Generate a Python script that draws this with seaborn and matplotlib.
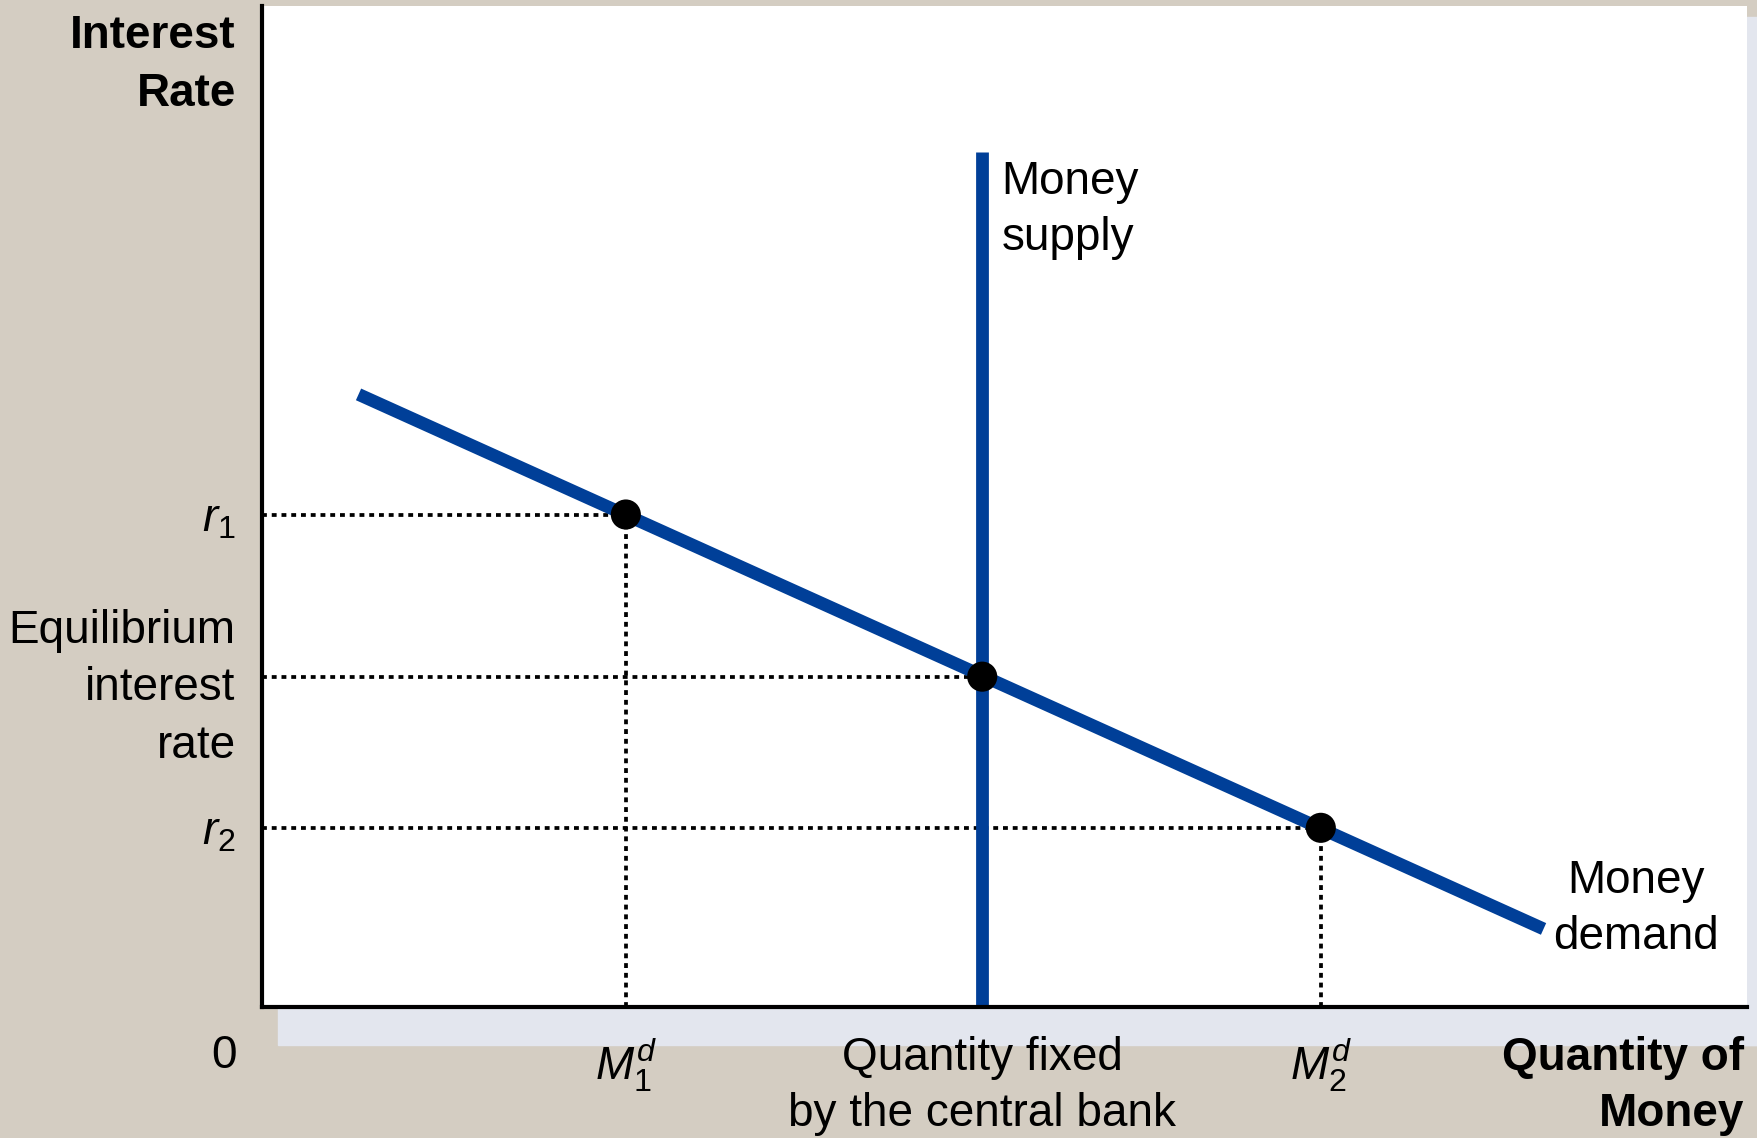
import numpy as np
import pandas as pd
import seaborn as sns
import matplotlib.pyplot as plt
from matplotlib.patches import Rectangle

# dados do grafico (unidades arbitrarias, eixo 0-10)
demand_q = [0.65, 8.63]
demand_r = [6.12, 0.78]
supply_q = [4.85, 4.85]
supply_r = [0.0, 8.54]
point_q = [2.45, 4.85, 7.13]
point_r = [4.92, 3.30, 1.79]
xtick_labels = ['$M_1^d$', 'Quantity fixed\nby the central bank', '$M_2^d$']
ytick_labels = ['$r_1$', 'Equilibrium\ninterest\nrate', '$r_2$']

blue = '#003F98'
bege = '#D4CDC2'

sns.set_theme(style='white')
plt.rcParams['font.family'] = ['Liberation Sans', 'DejaVu Sans']
plt.rcParams['mathtext.fontset'] = 'custom'
plt.rcParams['mathtext.rm'] = 'Liberation Sans'
plt.rcParams['mathtext.it'] = 'Liberation Sans:italic'
plt.rcParams['text.color'] = 'black'
plt.rcParams['xtick.color'] = 'black'
plt.rcParams['ytick.color'] = 'black'
plt.rcParams['lines.solid_capstyle'] = 'butt'

W, H = 1758, 1138
fig = plt.figure(figsize=(W / 100, H / 100), dpi=100, facecolor=bege)

# sombra azulada debaixo e a direita da area branca
fig.patches.append(Rectangle((278 / W, 1 - 1045 / H), (W - 278) / W, 38 / H,
                             transform=fig.transFigure, color='#E3E6EE', zorder=-5))
fig.patches.append(Rectangle((1744 / W, 1 - 1045 / H), 14 / W, (1045 - 17) / H,
                             transform=fig.transFigure, color='#E3E6EE', zorder=-5))

ax = fig.add_axes([262 / W, 1 - 1007 / H, (1747 - 262) / W, (1007 - 6) / H])
ax.set_facecolor('white')
ax.set_xlim(0, 10)
ax.set_ylim(0, 10)

# linhas pontilhadas de referencia
dot = (0, (1.3, 1.3))
for q, r in zip(point_q, point_r):
    ax.plot([0, q], [r, r], color='black', lw=2.7, linestyle=dot, zorder=1)
for q, r in zip([point_q[0], point_q[2]], [point_r[0], point_r[2]]):
    ax.plot([q, q], [0, r], color='black', lw=2.7, linestyle=dot, zorder=1)

# curvas de oferta e demanda
df_d = pd.DataFrame({'q': demand_q, 'r': demand_r})
df_s = pd.DataFrame({'q': supply_q, 'r': supply_r})
sns.lineplot(data=df_d, x='q', y='r', color=blue, lw=9.2, ax=ax, zorder=2,
             sort=False, estimator=None)
sns.lineplot(data=df_s, x='q', y='r', color=blue, lw=9.2, ax=ax, zorder=2,
             sort=False, estimator=None)

df_p = pd.DataFrame({'q': point_q, 'r': point_r})
sns.scatterplot(data=df_p, x='q', y='r', color='black', s=470, ax=ax, zorder=3,
                edgecolor='none')

ax.set_xlabel('')
ax.set_ylabel('')

for s in ['top', 'right']:
    ax.spines[s].set_visible(False)
for s in ['left', 'bottom']:
    ax.spines[s].set_color('black')
    ax.spines[s].set_linewidth(3)

ax.set_xticks(point_q)
ax.set_xticklabels(xtick_labels, fontsize=33, linespacing=1.35)
ax.set_yticks(point_r)
ax.set_yticklabels(ytick_labels, fontsize=33, linespacing=1.4)
ax.tick_params(axis='x', length=0, pad=21)
ax.tick_params(axis='y', length=0, pad=19)
for lab in ax.get_yticklabels():
    lab.set_multialignment('right')

# textos das curvas
ax.text(supply_q[0] + 0.13, supply_r[1] - 0.08, 'Money\nsupply', fontsize=33,
        ha='left', va='top', linespacing=1.35)
ax.text(9.25, 0.98, 'Money\ndemand', fontsize=33, ha='center', va='center',
        multialignment='center', linespacing=1.35)

# titulos dos eixos
fig.text(236 / W, 1 - 14 / H, 'Interest\nRate', fontsize=33, fontweight='bold',
         ha='right', va='top', multialignment='right', linespacing=1.4)
fig.text(1744 / W, 1 - 1036 / H, 'Quantity of\nMoney', fontsize=33, fontweight='bold',
         ha='right', va='top', multialignment='right', linespacing=1.35)
fig.text(224 / W, 1 - 1056 / H, '0', fontsize=33, ha='center', va='center')

fig.savefig('out.png', dpi=100, facecolor=bege)
